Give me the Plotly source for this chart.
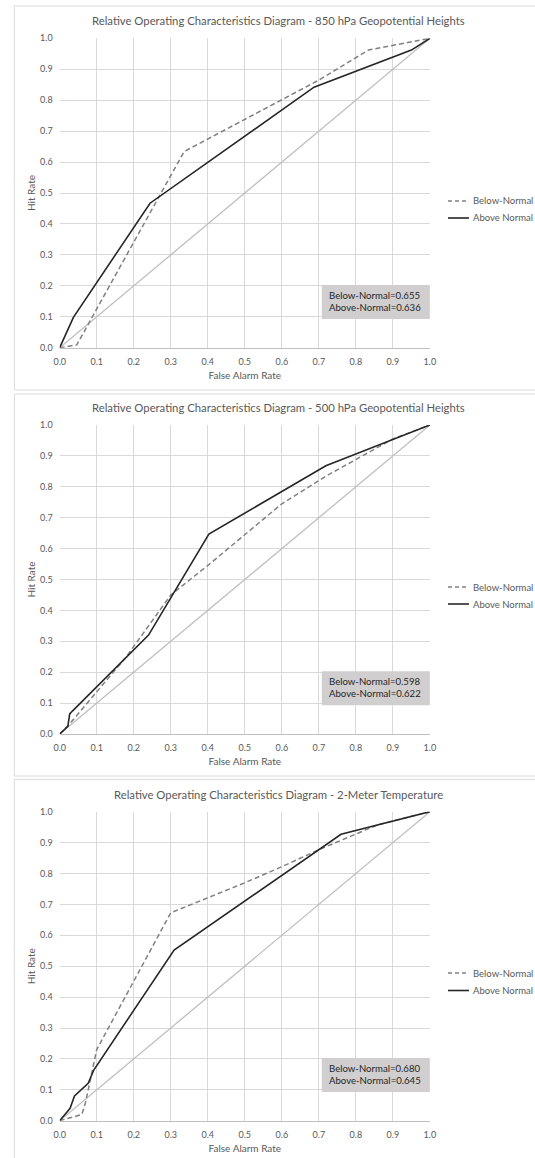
import plotly.graph_objects as go

# ---------------- data ----------------
titles = [
    "Relative Operating Characteristics Diagram - 850 hPa Geopotential Heights",
    "Relative Operating Characteristics Diagram - 500 hPa Geopotential Heights",
    "Relative Operating Characteristics Diagram - 2-Meter Temperature",
]
series_names = ["Below-Normal", "Above Normal"]
roc_scores_below = ["0.655", "0.598", "0.680"]
roc_scores_above = ["0.636", "0.622", "0.645"]

far_850_below = [0, 0.046, 0.336, 0.6, 0.7, 0.834, 1.0]
hit_850_below = [0, 0.009, 0.634, 0.80, 0.865, 0.962, 1.0]
far_850_above = [0, 0.037, 0.244, 0.687, 0.95, 1.0]
hit_850_above = [0, 0.098, 0.467, 0.842, 0.962, 1.0]

far_500_below = [0, 0.025, 0.18, 0.3, 0.41, 0.6, 0.72, 0.9, 1.0]
hit_500_below = [0, 0.03, 0.25, 0.45, 0.555, 0.745, 0.835, 0.955, 1.0]
far_500_above = [0, 0.022, 0.027, 0.035, 0.24, 0.403, 0.719, 1.0]
hit_500_above = [0, 0.025, 0.065, 0.075, 0.32, 0.647, 0.868, 1.0]

far_2m_below = [0, 0.06, 0.07, 0.1, 0.3, 0.5, 0.6, 0.7, 0.86, 1.0]
hit_2m_below = [0, 0.02, 0.06, 0.23, 0.673, 0.77, 0.822, 0.877, 0.958, 1.0]
far_2m_above = [0, 0.028, 0.04, 0.058, 0.077, 0.092, 0.309, 0.76, 1.0]
hit_2m_above = [0, 0.04, 0.08, 0.1, 0.121, 0.164, 0.552, 0.927, 1.0]

diag = [0, 1]
tick_vals = [0, 0.1, 0.2, 0.3, 0.4, 0.5, 0.6, 0.7, 0.8, 0.9, 1.0]

panels = [
    (far_850_below, hit_850_below, far_850_above, hit_850_above),
    (far_500_below, hit_500_below, far_500_above, hit_500_above),
    (far_2m_below, hit_2m_below, far_2m_above, hit_2m_above),
]

# ---------------- layout geometry (pixels) ----------------
W, H = 535, 1158
FONT = "Lato"
TXT = "#595959"
BELOW_STYLE = dict(color="#808080", width=1.5, dash="5px,3px")
ABOVE_STYLE = dict(color="#262626", width=1.6)

def px(x):
    return x / W

def py(y):
    return 1 - y / H

x_dom = [px(59.7), px(429.9)]
# (top of plot, bottom of plot, title y, border top, border bottom, legend y1, legend y2)
geo = [
    (38.3, 347.7, 20.0, 6.0, 390.0, 201.0, 218.0),
    (425.0, 734.0, 407.7, 394.0, 776.0, 587.0, 604.0),
    (811.7, 1120.7, 794.0, 779.3, 1165.0, 973.0, 990.5),
]

fig = go.Figure()
annotations = []
shapes = []
layout_axes = {}

for i, (fb, hb, fa, ha) in enumerate(panels):
    n = "" if i == 0 else str(i + 1)
    xa, ya = "x" + n, "y" + n
    top, bot, ty, btop, bbot, l1, l2 = geo[i]

    fig.add_trace(go.Scatter(x=diag, y=diag, mode="lines", xaxis=xa, yaxis=ya,
                             line=dict(color="#bfbfbf", width=1.3),
                             showlegend=False, hoverinfo="skip", cliponaxis=False))
    fig.add_trace(go.Scatter(x=fb, y=hb, mode="lines", xaxis=xa, yaxis=ya,
                             name=series_names[0], showlegend=False,
                             line=BELOW_STYLE, cliponaxis=False))
    fig.add_trace(go.Scatter(x=fa, y=ha, mode="lines", xaxis=xa, yaxis=ya,
                             name=series_names[1], showlegend=False,
                             line=ABOVE_STYLE, cliponaxis=False))

    layout_axes["xaxis" + n] = dict(
        domain=x_dom, anchor=ya, range=[0, 1], tickvals=tick_vals, tickformat=".1f",
        showgrid=True, gridcolor="#d9d9d9", gridwidth=1, zeroline=False,
        showline=True, linecolor="#bfbfbf", linewidth=1, ticks="", automargin=False,
        ticklabelstandoff=5,
        tickfont=dict(family=FONT, size=9, color=TXT),
        title=dict(text="False Alarm Rate", font=dict(family=FONT, size=10, color=TXT), standoff=6),
        fixedrange=True,
    )
    layout_axes["yaxis" + n] = dict(
        domain=[py(bot), py(top)], anchor=xa, range=[0, 1], tickvals=tick_vals, tickformat=".1f",
        showgrid=True, gridcolor="#d9d9d9", gridwidth=1, zeroline=False,
        showline=False, ticks="", automargin=False,
        ticklabelstandoff=6,
        tickfont=dict(family=FONT, size=9, color=TXT),
        title=dict(text="Hit Rate", font=dict(family=FONT, size=10, color=TXT), standoff=2),
        fixedrange=True,
    )

    # legend (drawn manually: short line sample + label)
    for name, style, ly in ((series_names[0], BELOW_STYLE, l1), (series_names[1], ABOVE_STYLE, l2)):
        shapes.append(dict(type="line", xref="paper", yref="paper",
                           x0=px(448), x1=px(469), y0=py(ly), y1=py(ly),
                           line=dict(style, dash="4px,3px") if "dash" in style else style))
        annotations.append(dict(text=name, xref="paper", yref="paper",
                                x=px(470.5), y=py(ly), xanchor="left", yanchor="middle",
                                showarrow=False, font=dict(family=FONT, size=9.5, color=TXT)))

    # chart title
    annotations.append(dict(text=titles[i], xref="paper", yref="paper",
                            x=px(278), y=py(ty), xanchor="center", yanchor="middle",
                            showarrow=False, font=dict(family=FONT, size=11.3, color=TXT)))
    # area score box
    shapes.append(dict(type="rect", xref=xa, yref=ya, x0=0.708, x1=1.0, y0=0.093, y1=0.203,
                       fillcolor="#d0cece", line=dict(width=0), layer="above"))
    annotations.append(dict(
        text="Below-Normal=" + roc_scores_below[i] + "<br>Above-Normal=" + roc_scores_above[i],
        xref=xa, yref=ya, x=0.722, y=0.149, xanchor="left", yanchor="middle", align="left",
        showarrow=False, font=dict(family=FONT, size=9.6, color="#262626")))
    # chart-area border
    shapes.append(dict(type="rect", xref="paper", yref="paper",
                       x0=px(14.3), x1=px(545), y0=py(bbot), y1=py(btop),
                       line=dict(color="#d9d9d9", width=1), fillcolor="rgba(0,0,0,0)", layer="below"))

fig.update_layout(
    width=W, height=H, margin=dict(l=0, r=0, t=0, b=0),
    paper_bgcolor="white", plot_bgcolor="white", showlegend=False,
    annotations=annotations, shapes=shapes, **layout_axes,
)

fig.write_html("out.html", config={"displayModeBar": False},
               post_script="document.body.style.margin='0px';document.body.style.overflow='hidden';")
